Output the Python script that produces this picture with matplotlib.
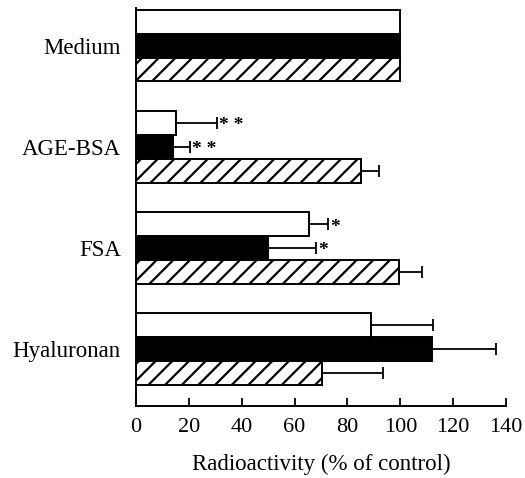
import matplotlib.pyplot as plt
import numpy as np

plt.rcParams['font.family'] = ['Liberation Serif', 'DejaVu Serif']
plt.rcParams['hatch.linewidth'] = 1.6

groups = ["Medium", "AGE-BSA", "FSA", "Hyaluronan"]
white_vals = [100, 15, 65.5, 89]
white_err = [0, 15.5, 7.3, 23.5]
black_vals = [100, 14, 50, 112]
black_err = [0, 6.5, 18, 24]
hatch_vals = [100, 85, 99.5, 70.5]
hatch_err = [0, 7, 8.5, 23]
white_marks = ["", "* *", "*", ""]
black_marks = ["", "* *", "*", ""]

fig = plt.figure(figsize=(5.25, 4.78), dpi=100)
ax = fig.add_axes([0.259, 0.151, 0.705, 0.832])

y = np.arange(len(groups))
h = 0.236
series = [
    (white_vals, white_err, "white", "", white_marks),
    (black_vals, black_err, "black", "", black_marks),
    (hatch_vals, hatch_err, "white", "//", None),
]
for i, (vals, errs, fc, hatch, marks) in enumerate(series):
    yy = y + (i - 1) * h
    ax.barh(yy, vals, height=h, color=fc, edgecolor="black", linewidth=1.4, hatch=hatch)
    for j in range(len(groups)):
        if errs[j] > 0:
            ax.errorbar(vals[j], yy[j], xerr=[[0], [errs[j]]], fmt="none", ecolor="black",
                        elinewidth=1.3, capsize=4.5, capthick=1.3)
        if marks and marks[j]:
            ax.text(vals[j] + errs[j] + 0.8, yy[j] + 0.03, marks[j], fontsize=14,
                    fontweight="bold", ha="left", va="center")

ax.set_xlim(0, 140)
ax.set_ylim(3.56, -0.37)
ax.set_xticks(np.arange(0, 141, 20))
ax.set_yticks(y)
ax.set_yticklabels(groups, fontsize=16.5)
ax.tick_params(axis="y", length=0, pad=11)
ax.tick_params(axis="x", direction="in", length=6, width=1.3, labelsize=16, pad=9)
ax.spines["top"].set_visible(False)
ax.spines["right"].set_visible(False)
ax.spines["left"].set_linewidth(1.4)
ax.spines["bottom"].set_linewidth(1.4)
ax.set_xlabel("Radioactivity (% of control)", fontsize=16.5, labelpad=12)

fig.savefig("out.png", dpi=100)
